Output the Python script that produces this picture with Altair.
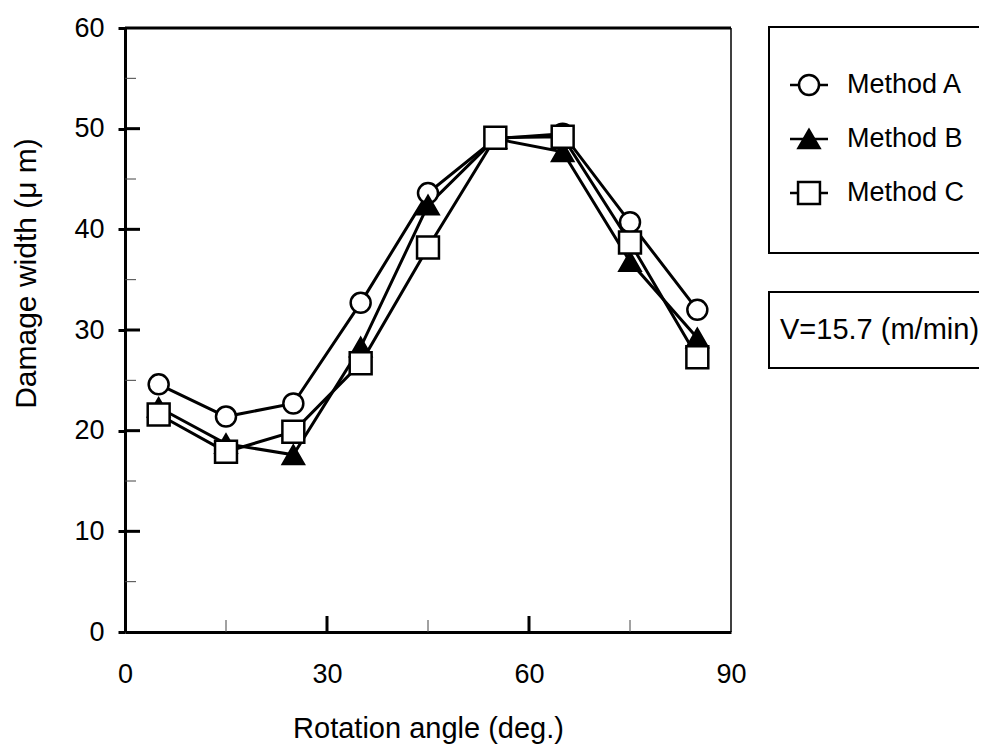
import altair as alt
import pandas as pd

# ---- data ----
methods = ["Method A", "Method B", "Method C"]
angles = [5, 15, 25, 35, 45, 55, 65, 75, 85]
method_a = [24.6, 21.4, 22.7, 32.7, 43.6, 49.0, 49.5, 40.7, 32.0]
method_b = [22.3, 18.7, 17.6, 28.3, 42.4, 49.0, 47.7, 36.8, 29.2]
method_c = [21.6, 17.9, 19.9, 26.7, 38.2, 49.1, 49.2, 38.7, 27.3]

x_labels = [0, 30, 60, 90]
y_labels = [0, 10, 20, 30, 40, 50, 60]
x_major_ticks = [30, 60]
x_minor_ticks = [15, 45, 75]
y_major_ticks = [10, 20, 30, 40, 50]
y_minor_ticks = [5, 15, 25, 35, 45, 55]

x_title = "Rotation angle (deg.)"
y_title = "Damage width (\u03bc m)"
v_label = "V=15.7 (m/min)"

FONT = "Liberation Sans"
W, H = 606, 604

rows = []
for m, vals in zip(methods, [method_a, method_b, method_c]):
    for a, v in zip(angles, vals):
        rows.append({"method": m, "angle": a, "width": v})
df = pd.DataFrame(rows)
leg_df = pd.DataFrame({"method": methods})

xs = alt.Scale(domain=[0, 90], nice=False, zero=False)
ys = alt.Scale(domain=[0, 60], nice=False, zero=False)
leg_ys = alt.Scale(type="point", domain=methods, range=[57, 165], padding=0)

shape_s = alt.Scale(domain=methods, range=["circle", "triangle-up", "square"])
fill_s = alt.Scale(domain=methods, range=["white", "black", "white"])
size_s = alt.Scale(domain=methods, range=[400, 480, 400])

x_axis = alt.Axis(values=x_labels, title=x_title, grid=False, ticks=False,
                  labelFont=FONT, labelFontSize=27, labelColor="black",
                  labelPadding=29, labelFlush=False,
                  domainColor="black", domainWidth=3,
                  titleFont=FONT, titleFontSize=29, titleFontWeight="normal",
                  titleColor="black", titleBaseline="alphabetic",
                  titleY=105, titleX=W / 2)
y_axis = alt.Axis(values=y_labels, title=y_title, grid=False,
                  tickSize=7, tickWidth=3, tickColor="black",
                  labelFont=FONT, labelFontSize=27, labelColor="black",
                  labelPadding=14, labelFlush=False,
                  domainColor="black", domainWidth=3,
                  titleFont=FONT, titleFontSize=30, titleFontWeight="normal",
                  titleColor="black", titleAngle=-90, titleBaseline="middle",
                  titleAlign="center", titleX=-99, titleY=245)

lines = alt.Chart(df).mark_line(color="black", strokeWidth=3).encode(
    x=alt.X("angle:Q", scale=xs, axis=None),
    y=alt.Y("width:Q", scale=ys, axis=None),
    detail="method:N",
    order="angle:Q",
)

points = alt.Chart(df).mark_point(filled=True, stroke="black", strokeWidth=2.5, opacity=1).encode(
    x=alt.X("angle:Q", scale=xs, axis=x_axis),
    y=alt.Y("width:Q", scale=ys, axis=y_axis),
    shape=alt.Shape("method:N", scale=shape_s, legend=None),
    fill=alt.Fill("method:N", scale=fill_s, legend=None),
    size=alt.Size("method:N", scale=size_s, legend=None),
)

def tick_df(vals):
    return pd.DataFrame({"v": vals})

y_major = alt.Chart(tick_df(y_major_ticks)).mark_rule(color="black", strokeWidth=3).encode(
    y=alt.Y("v:Q", scale=ys, axis=None), x=alt.value(0), x2=alt.value(15))
y_minor = alt.Chart(tick_df(y_minor_ticks)).mark_rule(color="#444", strokeWidth=1).encode(
    y=alt.Y("v:Q", scale=ys, axis=None), x=alt.value(0), x2=alt.value(11))
x_major = alt.Chart(tick_df(x_major_ticks)).mark_rule(color="black", strokeWidth=3).encode(
    x=alt.X("v:Q", scale=xs, axis=None), y=alt.value(H), y2=alt.value(H - 16))
x_minor = alt.Chart(tick_df(x_minor_ticks)).mark_rule(color="#444", strokeWidth=1).encode(
    x=alt.X("v:Q", scale=xs, axis=None), y=alt.value(H), y2=alt.value(H - 12))

one = pd.DataFrame({"k": [0]})
top_frame = alt.Chart(one).mark_rule(color="black", strokeWidth=3).encode(
    x=alt.value(0), x2=alt.value(W), y=alt.value(0))
right_frame = alt.Chart(one).mark_rule(color="black", strokeWidth=1.5).encode(
    x=alt.value(W), y=alt.value(0), y2=alt.value(H))

legend_box = alt.Chart(one).mark_rect(fill="white", stroke="black", strokeWidth=2).encode(
    x=alt.value(644), x2=alt.value(900), y=alt.value(-1), y2=alt.value(225))
v_box = alt.Chart(one).mark_rect(fill="white", stroke="black", strokeWidth=2).encode(
    x=alt.value(644), x2=alt.value(900), y=alt.value(264), y2=alt.value(340))

leg_stub = alt.Chart(leg_df).mark_rule(color="black", strokeWidth=2.5).encode(
    y=alt.Y("method:N", scale=leg_ys, axis=None), x=alt.value(665), x2=alt.value(703))
leg_pts = alt.Chart(leg_df).mark_point(filled=True, stroke="black", strokeWidth=2.5, opacity=1).encode(
    y=alt.Y("method:N", scale=leg_ys, axis=None), x=alt.value(684),
    shape=alt.Shape("method:N", scale=shape_s, legend=None),
    fill=alt.Fill("method:N", scale=fill_s, legend=None),
    size=alt.Size("method:N", scale=size_s, legend=None),
)
leg_txt = alt.Chart(leg_df).mark_text(align="left", baseline="middle", font=FONT,
                                      fontSize=27, color="black").encode(
    y=alt.Y("method:N", scale=leg_ys, axis=None), x=alt.value(722), text="method:N")

v_txt = alt.Chart(pd.DataFrame({"t": [v_label]})).mark_text(
    align="left", baseline="middle", font=FONT, fontSize=29, color="black").encode(
    x=alt.value(655), y=alt.value(302), text="t:N")

chart = alt.layer(
    y_minor, y_major, x_minor, x_major, top_frame, right_frame,
    lines, points,
    legend_box, v_box, leg_stub, leg_pts, leg_txt, v_txt,
).resolve_scale(y="independent").resolve_axis(x="independent", y="independent").properties(
    width=W, height=H,
    autosize=alt.AutoSizeParams(type="none"),
    padding={"left": 117, "top": 20, "right": 248, "bottom": 113},
    background="white",
).configure_view(stroke=None)

chart.save("out.html", embed_options={"renderer": "svg", "actions": False})
